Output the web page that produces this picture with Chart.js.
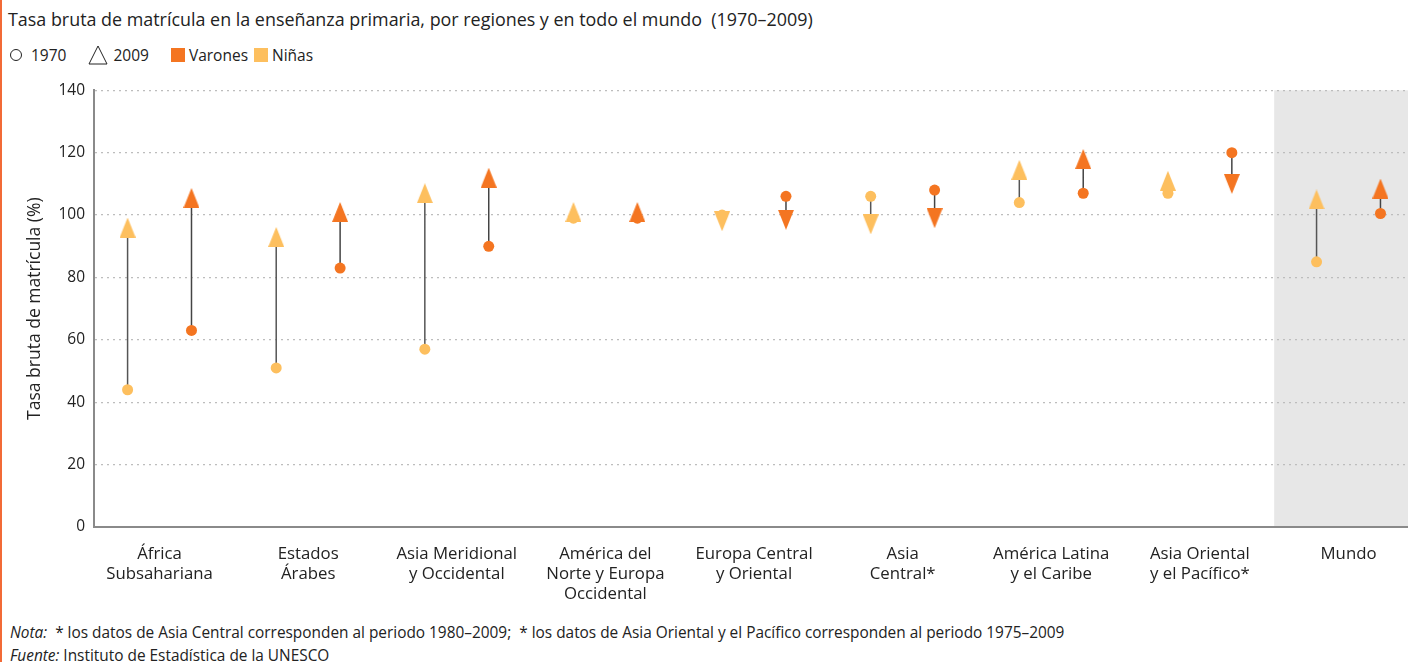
<!DOCTYPE html>
<html lang="es">
<head>
  <meta charset="UTF-8">
  <title>Tasa bruta de matrícula en la enseñanza primaria</title>
  <script src="https://cdn.jsdelivr.net/npm/chart.js"></script>
  <style>
    body {
      margin: 0;
      width: 1408px;
      height: 662px;
      overflow: hidden;
      font-family: "Open Sans", sans-serif;
      color: #222;
      background: #fff;
      position: relative;
    }
    .edge {
      position: absolute;
      left: 0; top: 0;
      width: 2px; height: 662px;
      background: #f26a36;
      z-index: 2;
    }
    h2 {
      position: absolute;
      left: 8px; top: 7px;
      margin: 0;
      font-size: 17.9px;
      font-weight: normal;
      white-space: nowrap;
    }
    .legend {
      position: absolute;
      left: 8px; top: 44px;
      font-size: 15.5px;
      display: flex;
      align-items: center;
      white-space: nowrap;
    }
    .legend span { display: inline-flex; align-items: center; }
    .circ {
      width: 10px; height: 10px;
      border: 1.3px solid #222;
      border-radius: 50%;
      margin: 0 9px 0 2px;
    }
    .sq { width: 14px; height: 14px; margin-right: 4px; }
    #box {
      position: absolute;
      left: 0; top: 72px;
      width: 1418px; height: 546px;
    }
    .notes {
      position: absolute;
      left: 10px; top: 621px;
      font-size: 15.4px;
      line-height: 23px;
      white-space: nowrap;
    }
    .notes i { font-style: italic; }
  </style>
</head>
<body>
  <div class="edge"></div>
  <h2>Tasa bruta de matrícula en la enseñanza primaria, por regiones y en todo el mundo&nbsp; (1970–2009)</h2>
  <div class="legend">
    <span><span class="circ"></span>1970</span>
    <span style="margin-left:22px"><svg width="20" height="20" style="margin-right:5px"><path d="M10 1 L19 19 L1 19 Z" fill="none" stroke="#222" stroke-width="1"/></svg>2009</span>
    <span style="margin-left:22px"><span class="sq" style="background:#f47521"></span>Varones</span>
    <span style="margin-left:6px"><span class="sq" style="background:#fdbf5e"></span>Niñas</span>
  </div>
  <div id="box"><canvas id="chart"></canvas></div>
  <div class="notes">
    <div><i>Nota:</i>&nbsp; * los datos de Asia Central corresponden al periodo 1980–2009;&nbsp; * los datos de Asia Oriental y el Pacífico corresponden al periodo 1975–2009</div>
    <div><i>Fuente:</i> Instituto de Estadística de la UNESCO</div>
  </div>

  <script>
    const regions = [
      ['África', 'Subsahariana'],
      ['Estados', 'Árabes'],
      ['Asia Meridional', 'y Occidental'],
      ['América del', 'Norte y Europa', 'Occidental'],
      ['Europa Central', 'y Oriental'],
      ['Asia', 'Central*'],
      ['América Latina', 'y el Caribe'],
      ['Asia Oriental', 'y el Pacífico*'],
      ['Mundo']
    ];
    const ninas1970 = [44, 51, 57, 99, 100, 106, 104, 107, 85];
    const ninas2009 = [96, 93, 107, 101, 98, 97, 114.5, 111, 105];
    const varones1970 = [63, 83, 90, 99, 106, 108, 107, 120, 100.5];
    const varones2009 = [105.5, 101, 112, 101, 98.5, 99, 118, 110, 108.5];
    const yTicks = [0, 20, 40, 60, 80, 100, 120, 140];

    const VARONES = '#f47521';
    const NINAS = '#fdbf5e';
    const SHIFT = 0.215; // niñas left, varones right inside each region

    function makeTriangle(color, down) {
      const c = document.createElement('canvas');
      c.width = 16; c.height = 20;
      const g = c.getContext('2d');
      g.fillStyle = color;
      g.beginPath();
      if (down) {
        g.moveTo(0, 0); g.lineTo(16, 0); g.lineTo(8, 20);
      } else {
        g.moveTo(8, 0); g.lineTo(16, 20); g.lineTo(0, 20);
      }
      g.closePath();
      g.fill();
      return c;
    }
    const tri = {
      ninasUp: makeTriangle(NINAS, false), ninasDown: makeTriangle(NINAS, true),
      varonesUp: makeTriangle(VARONES, false), varonesDown: makeTriangle(VARONES, true)
    };

    function points(values, offset) {
      return values.map((v, i) => ({ x: i + offset, y: v }));
    }
    function stems(from, to, offset) {
      const out = [];
      from.forEach((v, i) => {
        out.push({ x: i + offset, y: v }, { x: i + offset, y: to[i] }, { x: i + offset, y: null });
      });
      return out;
    }

    const bandPlugin = {
      id: 'mundoBand',
      beforeDraw(chart) {
        const { ctx, chartArea, scales } = chart;
        const x0 = scales.x.getPixelForValue(7.5);
        ctx.save();
        ctx.fillStyle = '#e7e7e7';
        ctx.fillRect(x0, chartArea.top, chartArea.right - x0, chartArea.bottom - chartArea.top);
        ctx.restore();
      }
    };

    new Chart(document.getElementById('chart'), {
      type: 'scatter',
      data: {
        datasets: [
          {
            label: 'Niñas 2009', data: points(ninas2009, -SHIFT), order: 0,
            pointStyle: c => ninas2009[c.dataIndex] >= ninas1970[c.dataIndex] ? tri.ninasUp : tri.ninasDown,
            pointRadius: 8
          },
          {
            label: 'Varones 2009', data: points(varones2009, SHIFT), order: 0,
            pointStyle: c => varones2009[c.dataIndex] >= varones1970[c.dataIndex] ? tri.varonesUp : tri.varonesDown,
            pointRadius: 8
          },
          {
            label: 'Niñas 1970', data: points(ninas1970, -SHIFT), order: 1,
            pointStyle: 'circle', pointRadius: 5.5, pointBorderWidth: 0, backgroundColor: NINAS
          },
          {
            label: 'Varones 1970', data: points(varones1970, SHIFT), order: 1,
            pointStyle: 'circle', pointRadius: 5.5, pointBorderWidth: 0, backgroundColor: VARONES
          },
          {
            label: 'stems niñas', data: stems(ninas1970, ninas2009, -SHIFT), order: 2,
            showLine: true, spanGaps: false, pointRadius: 0, borderColor: '#555', borderWidth: 1.5
          },
          {
            label: 'stems varones', data: stems(varones1970, varones2009, SHIFT), order: 2,
            showLine: true, spanGaps: false, pointRadius: 0, borderColor: '#444', borderWidth: 1.5
          }
        ]
      },
      options: {
        responsive: true,
        maintainAspectRatio: false,
        animation: false,
        layout: { padding: { top: 6, right: 0, bottom: 0, left: 0 } },
        plugins: { legend: { display: false }, tooltip: { enabled: false } },
        scales: {
          x: {
            type: 'linear',
            min: -0.441,
            max: 8.407,
            afterBuildTicks: s => { s.ticks = regions.map((r, i) => ({ value: i })); },
            afterFit: s => { s.height = 91; },
            grid: { display: false, drawTicks: false },
            border: { display: true, color: '#8a8a8a', width: 2 },
            ticks: {
              autoSkip: false,
              maxRotation: 0,
              padding: 17,
              color: '#222',
              font: { family: 'Open Sans', size: 16.8, lineHeight: 1.2 },
              callback: v => regions[v]
            }
          },
          y: {
            min: 0,
            max: 140,
            afterBuildTicks: s => { s.ticks = yTicks.map(v => ({ value: v })); },
            afterFit: s => { s.width = 94; },
            grid: { color: '#bdbdbd', lineWidth: 1.3, drawTicks: false },
            border: { display: true, color: '#8a8a8a', width: 2, dash: [2, 4] },
            ticks: {
              padding: 9,
              color: '#222',
              font: { family: 'Open Sans', size: 15.5 }
            },
            title: {
              display: true,
              text: 'Tasa bruta de matrícula (%)',
              color: '#222',
              padding: { top: 25, bottom: 0 },
              font: { family: 'Open Sans', size: 17.5 }
            }
          }
        }
      },
      plugins: [bandPlugin]
    });
  </script>
</body>
</html>
